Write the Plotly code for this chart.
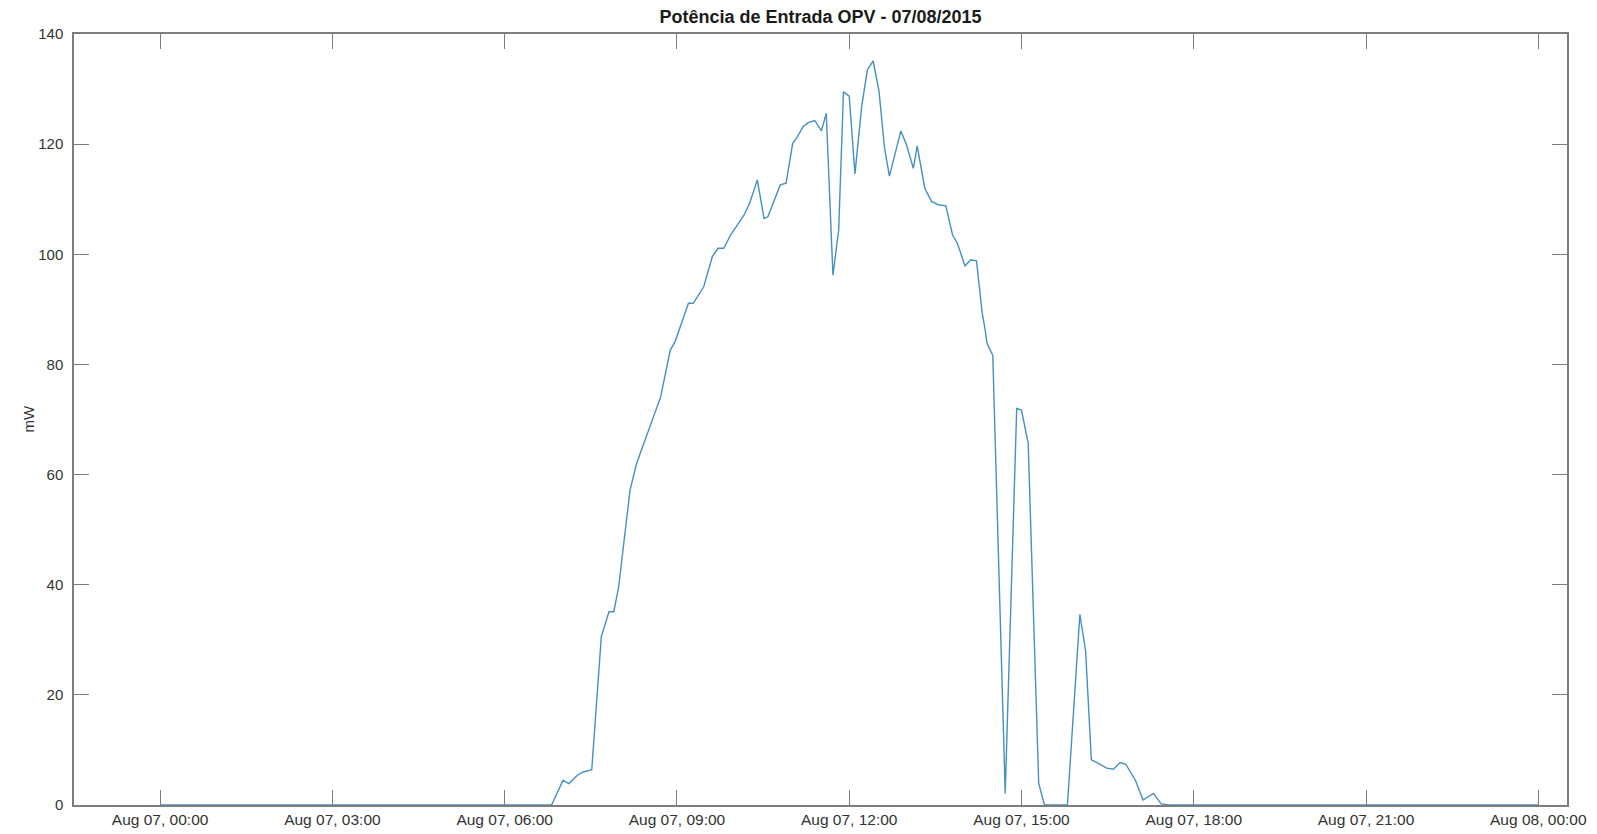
import plotly.graph_objects as go

# ---- data ----
times = [
    "2015-08-07 00:00", "2015-08-07 06:49", "2015-08-07 07:01", "2015-08-07 07:07",
    "2015-08-07 07:16", "2015-08-07 07:22", "2015-08-07 07:31", "2015-08-07 07:41",
    "2015-08-07 07:49", "2015-08-07 07:54", "2015-08-07 07:59", "2015-08-07 08:11",
    "2015-08-07 08:18", "2015-08-07 08:29", "2015-08-07 08:34", "2015-08-07 08:43",
    "2015-08-07 08:53", "2015-08-07 08:58", "2015-08-07 09:12", "2015-08-07 09:17",
    "2015-08-07 09:28", "2015-08-07 09:37", "2015-08-07 09:43", "2015-08-07 09:49",
    "2015-08-07 09:56", "2015-08-07 10:10", "2015-08-07 10:16", "2015-08-07 10:24",
    "2015-08-07 10:31", "2015-08-07 10:35", "2015-08-07 10:48", "2015-08-07 10:54",
    "2015-08-07 11:01", "2015-08-07 11:05", "2015-08-07 11:12", "2015-08-07 11:17",
    "2015-08-07 11:24", "2015-08-07 11:31", "2015-08-07 11:36", "2015-08-07 11:43",
    "2015-08-07 11:49", "2015-08-07 11:54", "2015-08-07 12:00", "2015-08-07 12:06",
    "2015-08-07 12:13", "2015-08-07 12:19", "2015-08-07 12:25", "2015-08-07 12:31",
    "2015-08-07 12:37", "2015-08-07 12:42", "2015-08-07 12:54", "2015-08-07 13:00",
    "2015-08-07 13:07", "2015-08-07 13:11", "2015-08-07 13:19", "2015-08-07 13:26",
    "2015-08-07 13:33", "2015-08-07 13:41", "2015-08-07 13:48", "2015-08-07 13:53",
    "2015-08-07 14:01", "2015-08-07 14:07", "2015-08-07 14:13", "2015-08-07 14:19",
    "2015-08-07 14:22", "2015-08-07 14:24", "2015-08-07 14:30", "2015-08-07 14:43",
    "2015-08-07 14:55", "2015-08-07 15:00", "2015-08-07 15:07", "2015-08-07 15:18",
    "2015-08-07 15:24", "2015-08-07 15:48", "2015-08-07 16:01", "2015-08-07 16:07",
    "2015-08-07 16:13", "2015-08-07 16:19", "2015-08-07 16:29", "2015-08-07 16:36",
    "2015-08-07 16:43", "2015-08-07 16:49", "2015-08-07 16:59", "2015-08-07 17:07",
    "2015-08-07 17:18", "2015-08-07 17:26", "2015-08-07 17:34", "2015-08-08 00:00",
]
power_mw = [
    0, 0, 4.5, 3.9,
    5.4, 6.0, 6.4, 30.6,
    35.1, 35.1, 39.5, 57.2,
    62.1, 67.5, 69.9, 74.1,
    82.6, 84.1, 91.1, 91.1,
    94.1, 99.6, 101.1, 101.1,
    103.5, 107.1, 109.3, 113.5,
    106.5, 106.8, 112.6, 112.9,
    120.2, 121.1, 123.2, 123.9,
    124.3, 122.4, 125.6, 96.2,
    104.4, 129.5, 128.7, 114.6,
    126.8, 133.5, 135.1, 129.8,
    119.2, 114.2, 122.4, 119.8,
    115.6, 119.7, 112.0, 109.6,
    109.0, 108.8, 103.5, 102.0,
    97.9, 99.0, 98.8, 89.3,
    86.3, 83.8, 81.7, 2.1,
    72.0, 71.7, 65.7, 3.9,
    0, 0, 34.6, 28.0,
    8.2, 7.7, 6.7, 6.5,
    7.7, 7.4, 4.5, 0.9,
    2.1, 0.2, 0, 0,
]

x_tick_vals = [
    "2015-08-07 00:00", "2015-08-07 03:00", "2015-08-07 06:00", "2015-08-07 09:00",
    "2015-08-07 12:00", "2015-08-07 15:00", "2015-08-07 18:00", "2015-08-07 21:00",
    "2015-08-08 00:00",
]
x_tick_text = [
    "Aug 07, 00:00", "Aug 07, 03:00", "Aug 07, 06:00", "Aug 07, 09:00",
    "Aug 07, 12:00", "Aug 07, 15:00", "Aug 07, 18:00", "Aug 07, 21:00",
    "Aug 08, 00:00",
]
y_tick_vals = [0, 20, 40, 60, 80, 100, 120, 140]

title_text = "Potência de Entrada OPV - 07/08/2015"
y_title = "mW"

# ---- figure ----
W, H = 1597, 834
ML, MR, MT, MB = 74, 30, 34, 29
axis_col = "#7d7d7d"
text_col = "#333333"
font_family = "Liberation Sans, Arial, sans-serif"

fig = go.Figure()
fig.add_trace(go.Scatter(
    x=times, y=power_mw, mode="lines",
    line=dict(color="#4490c4", width=1.4),
    showlegend=False,
))

fig.update_layout(
    width=W, height=H,
    paper_bgcolor="white", plot_bgcolor="white",
    margin=dict(l=ML, r=MR, t=MT, b=MB, autoexpand=False),
    font=dict(family=font_family, size=15, color=text_col),
    title=dict(
        text="<b>" + title_text + "</b>",
        x=0.5, xref="paper", xanchor="center",
        y=1 - 17 / H, yref="container", yanchor="middle",
        font=dict(family=font_family, size=18, color="#1a1a1a"),
        automargin=False,
    ),
    annotations=[dict(
        text=y_title, textangle=-90,
        xref="paper", yref="paper",
        x=-(ML - 28) / (W - ML - MR), y=0.5,
        xanchor="center", yanchor="middle", showarrow=False,
        font=dict(family=font_family, size=15, color=text_col),
    )],
)

fig.update_xaxes(
    range=["2015-08-06 22:30", "2015-08-08 00:30"],
    tickmode="array", tickvals=x_tick_vals, ticktext=x_tick_text,
    ticks="inside", ticklen=15, tickwidth=1.2, tickcolor=axis_col,
    showline=True, linecolor=axis_col, linewidth=1.5, mirror="ticks",
    showgrid=False, zeroline=False, automargin=False,
    tickfont=dict(size=15.5, color=text_col),
    ticklabelstandoff=0,
    layer="below traces",
)
fig.update_yaxes(
    range=[0, 140],
    tickmode="array", tickvals=y_tick_vals,
    ticks="inside", ticklen=15, tickwidth=1.2, tickcolor=axis_col,
    showline=True, linecolor=axis_col, linewidth=1.5, mirror="ticks",
    showgrid=False, zeroline=False, automargin=False,
    tickfont=dict(size=15, color=text_col),
    ticklabelstandoff=6,
    layer="below traces",
)

# remove the browser's default 8px body margin so the figure fills the window
fig.write_html(
    "out.html",
    config={"displayModeBar": False},
    post_script="document.body.style.margin='0px';document.body.style.overflow='hidden';",
)
